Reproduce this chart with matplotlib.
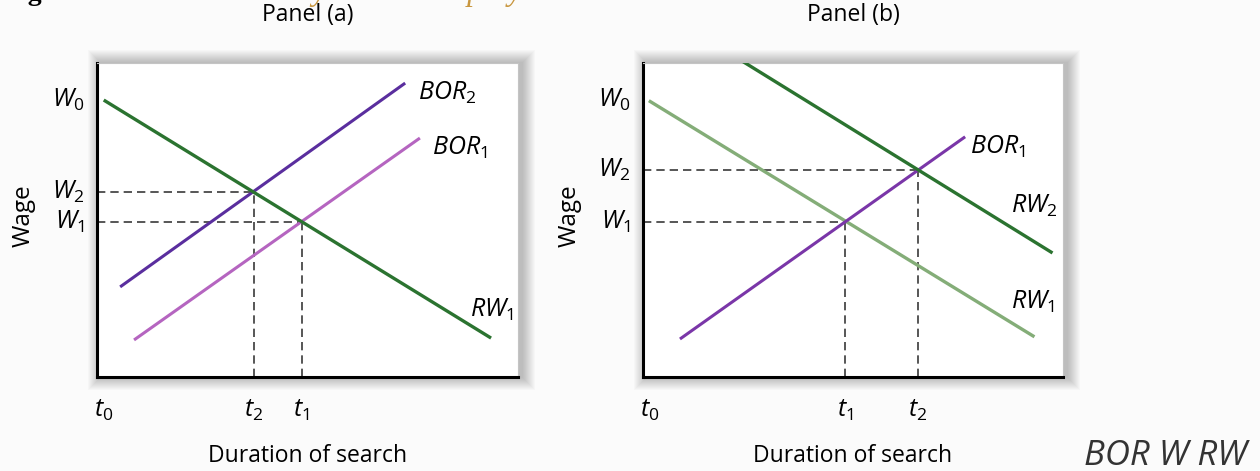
import matplotlib
matplotlib.use("Agg")
import matplotlib.pyplot as plt
from matplotlib.patches import Rectangle

plt.rcParams['font.family'] = ['Open Sans', 'DejaVu Sans']
plt.rcParams['mathtext.fontset'] = 'custom'
plt.rcParams['mathtext.rm'] = 'Open Sans'
plt.rcParams['mathtext.it'] = 'Open Sans:italic'

# panel (a): one reservation wage line, two benefit/opportunity lines
rw1_a_x = [0.16, 9.36]
rw1_a_y = [8.82, 1.24]
bor2_a_x = [0.55, 7.32]
bor2_a_y = [2.87, 9.36]
bor1_a_x = [0.88, 7.67]
bor1_a_y = [1.18, 7.61]
t_a = [3.72, 4.86]          # t2, t1
w_a = [5.90, 4.95]          # W2, W1
t_a_labels = [r'$t_2$', r'$t_1$']
w_a_labels = [r'$W_2$', r'$W_1$']

# panel (b): two reservation wage lines, one BOR line
rw1_b_x = [0.14, 9.32]
rw1_b_y = [8.80, 1.28]
rw2_b_x = [2.35, 9.75]
rw2_b_y = [10.07, 3.95]
bor1_b_x = [0.88, 7.67]
bor1_b_y = [1.21, 7.65]
t_b = [4.82, 6.55]          # t1, t2
w_b = [4.95, 6.60]          # W1, W2
t_b_labels = [r'$t_1$', r'$t_2$']
w_b_labels = [r'$W_1$', r'$W_2$']

W0 = 8.82

dark_green = '#2b7330'
light_green = '#84ad78'
violet = '#5a2e9e'
pink_purple = '#b565c0'
purple = '#7a36a8'

FS = 16.5      # plain labels
MFS = 18       # italic math labels

W, H = 1260, 471
fig = plt.figure(figsize=(W / 100, H / 100), dpi=100, facecolor='#fbfbfb')


def box_axes(left, right, top, bottom):
    rect = [left / W, 1 - bottom / H, (right - left) / W, (bottom - top) / H]
    # soft drop shadow
    for k in range(1, 14):
        fig.patches.append(Rectangle(((left + 4 - k) / W, 1 - (bottom + k) / H),
                                     (right - left + 2 * k) / W, (bottom - top + 2 * k) / H,
                                     transform=fig.transFigure, facecolor='#000000',
                                     edgecolor='none', alpha=0.02, zorder=-5))
    ax = fig.add_axes(rect)
    ax.set_facecolor('white')
    ax.set_xlim(0, 10)
    ax.set_ylim(0, 10)
    ax.set_xticks([])
    ax.set_yticks([])
    for s in ['left', 'bottom']:
        ax.spines[s].set_linewidth(2.2)
        ax.spines[s].set_color('black')
    for s in ['top', 'right']:
        ax.spines[s].set_linewidth(0.8)
        ax.spines[s].set_color('#c4c4c4')
    return ax


def guides(ax, ts, ws):
    for t, w in zip(ts, ws):
        ax.plot([0, t], [w, w], color='#3a3a3a', lw=1.2, dashes=(5, 3), zorder=2)
        ax.plot([t, t], [0, w], color='#3a3a3a', lw=1.2, dashes=(5, 3), zorder=2)


def common_text(ax, title, ts, tlabels, ws, wlabels):
    ax.text(5, 11.53, title, ha='center', va='center', fontsize=FS, clip_on=False)
    ax.text(5, -2.5, 'Duration of search', ha='center', va='center', fontsize=FS, clip_on=False)
    ax.text(-1.75, 5.15, 'Wage', ha='center', va='center', rotation=90, fontsize=FS + 1, clip_on=False)
    ax.text(-0.3, W0, r'$W_0$', ha='right', va='center', fontsize=MFS, clip_on=False)
    for w, lab in zip(ws, wlabels):
        ax.text(-0.3, w, lab, ha='right', va='center', fontsize=MFS, clip_on=False)
    ax.text(0.15, -1.05, r'$t_0$', ha='center', va='center', fontsize=MFS, clip_on=False)
    for t, lab in zip(ts, tlabels):
        ax.text(t, -1.05, lab, ha='center', va='center', fontsize=MFS, clip_on=False)


# Panel (a)
ax1 = box_axes(97, 518, 63, 377)
guides(ax1, t_a, w_a)
ax1.plot(bor1_a_x, bor1_a_y, color=pink_purple, lw=2.2, solid_capstyle='butt', zorder=3)
ax1.plot(bor2_a_x, bor2_a_y, color=violet, lw=2.2, solid_capstyle='butt', zorder=3)
ax1.plot(rw1_a_x, rw1_a_y, color=dark_green, lw=2.4, solid_capstyle='butt', zorder=4)
common_text(ax1, 'Panel (a)', t_a, t_a_labels, w_a, w_a_labels)
ax1.text(7.62, 9.04, r'$BOR_2$', ha='left', va='center', fontsize=MFS, clip_on=False)
ax1.text(7.96, 7.29, r'$BOR_1$', ha='left', va='center', fontsize=MFS, clip_on=False)
ax1.text(8.86, 2.13, r'$RW_1$', ha='left', va='center', fontsize=MFS, clip_on=False)

# Panel (b)
ax2 = box_axes(643, 1063, 63, 377)
guides(ax2, t_b, w_b)
ax2.plot(rw1_b_x, rw1_b_y, color=light_green, lw=2.4, solid_capstyle='butt', zorder=3)
ax2.plot(bor1_b_x, bor1_b_y, color=purple, lw=2.2, solid_capstyle='butt', zorder=4)
ax2.plot(rw2_b_x, rw2_b_y, color=dark_green, lw=2.4, solid_capstyle='butt', zorder=4)
common_text(ax2, 'Panel (b)', t_b, t_b_labels, w_b, w_b_labels)
ax2.text(7.79, 7.32, r'$BOR_1$', ha='left', va='center', fontsize=MFS, clip_on=False)
ax2.text(8.76, 5.45, r'$RW_2$', ha='left', va='center', fontsize=MFS, clip_on=False)
ax2.text(8.76, 2.39, r'$RW_1$', ha='left', va='center', fontsize=MFS, clip_on=False)

# caption strip, cut off at the top edge as in the source image
fig.text(3 / W, 1.0, 'Figure 13.6', ha='left', va='baseline', fontsize=20,
         family='Liberation Serif', weight='bold', color='black')
fig.text(140 / W, 1.0, 'Search Theory and Unemployment', ha='left', va='baseline',
         fontsize=23, family='Liberation Serif', style='italic', color='#c8963e')

fig.text(1084 / W, 1 - 465 / H, 'BOR W RW', ha='left', va='baseline', fontsize=25,
         style='italic', color='#333333')

fig.savefig('out.png', dpi=100, facecolor=fig.get_facecolor())
